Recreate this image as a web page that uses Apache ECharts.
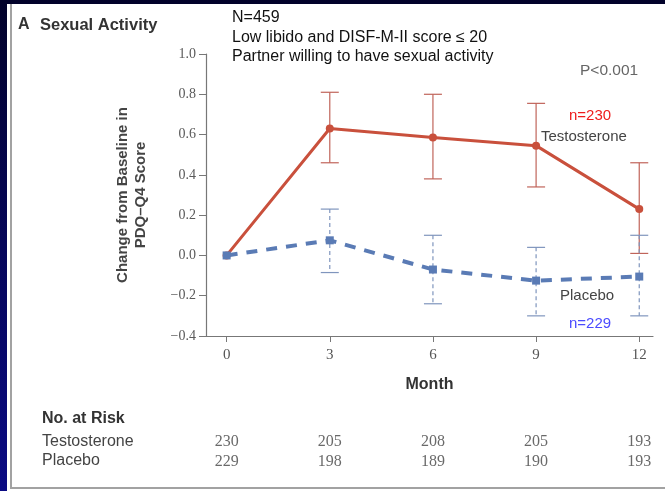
<!DOCTYPE html>
<html>
<head>
<meta charset="utf-8">
<script src="https://cdn.jsdelivr.net/npm/echarts@6/dist/echarts.min.js"></script>
<style>
  html, body { margin: 0; padding: 0; }
  body { width: 665px; height: 491px; position: relative; overflow: hidden;
         background: linear-gradient(to bottom, #02022a 0%, #06065a 50%, #0b0b84 100%); }
  #panel { position: absolute; left: 7px; top: 4px; width: 658px; height: 487px; background: #ffffff; }
  #edgeL { position: absolute; left: 10px; top: 4px; width: 2px; height: 485px; background: #a2a2a2; }
  #edgeB { position: absolute; left: 10px; top: 487px; width: 655px; height: 2px; background: #a2a2a2; }
  #chart { position: absolute; left: 0; top: 0; width: 665px; height: 491px; }
</style>
</head>
<body>
<div id="panel"></div>
<div id="edgeL"></div>
<div id="edgeB"></div>
<div id="chart"></div>
<script>
// Change from baseline in PDQ-Q4 sexual activity score, by month
const months = [0, 3, 6, 9, 12];
const monthTicks = [0, 3, 6, 9, 12];

const testoMean = [0, 0.63, 0.585, 0.545, 0.23];
const testoLow  = [null, 0.46, 0.38, 0.34, 0.01];
const testoHigh = [null, 0.81, 0.80, 0.755, 0.46];

const placeboMean = [0, 0.075, -0.07, -0.125, -0.105];
const placeboLow  = [null, -0.085, -0.24, -0.30, -0.30];
const placeboHigh = [null, 0.23, 0.10, 0.04, 0.10];

// Number at risk table
const riskGroups = ['Testosterone', 'Placebo'];
const riskTesto = [230, 205, 208, 205, 193];
const riskPlacebo = [229, 198, 189, 190, 193];

const RED = '#c9503c';
const RED_BAR = '#c0645a';
const BLUE = '#5a7bb5';
const BLUE_BAR = '#7f95bd';

function pairs(xs, ys) { return xs.map((x, i) => [x, ys[i]]); }
function bars(xs, lo, hi) {
  const out = [];
  xs.forEach((x, i) => { if (lo[i] != null) out.push([x, lo[i], hi[i]]); });
  return out;
}
function errorBar(color, dash) {
  return function (params, api) {
    const x = api.value(0);
    const pLo = api.coord([x, api.value(1)]);
    const pHi = api.coord([x, api.value(2)]);
    const w = 9;
    const st = { stroke: color, lineWidth: 1.2, lineDash: dash };
    return {
      type: 'group',
      children: [
        { type: 'line', shape: { x1: pHi[0], y1: pHi[1], x2: pLo[0], y2: pLo[1] }, style: st },
        { type: 'line', shape: { x1: pHi[0] - w, y1: pHi[1], x2: pHi[0] + w, y2: pHi[1] }, style: { stroke: color, lineWidth: 1.2 } },
        { type: 'line', shape: { x1: pLo[0] - w, y1: pLo[1], x2: pLo[0] + w, y2: pLo[1] }, style: { stroke: color, lineWidth: 1.2 } }
      ]
    };
  };
}

const riskData = [];
months.forEach((m, i) => {
  riskData.push([m, 'Testosterone', riskTesto[i]]);
  riskData.push([m, 'Placebo', riskPlacebo[i]]);
});

const tickFont = '"Liberation Serif", "DejaVu Serif", serif';
const sansFont = '"Liberation Sans", Arial, sans-serif';

const chart = echarts.init(document.getElementById('chart'), null, { renderer: 'canvas' });
chart.setOption({
  animation: false,
  backgroundColor: 'transparent',
  grid: [
    { left: 206, right: 12, top: 54, bottom: 155, containLabel: false },
    { left: 206, right: 12, top: 432, height: 40, containLabel: false }
  ],
  xAxis: [
    {
      type: 'value', gridIndex: 0, min: -0.6, max: 12.4,
      axisLine: { show: true, onZero: false, lineStyle: { color: '#777', width: 1.2 } },
      axisTick: { show: true, length: 6, customValues: monthTicks, lineStyle: { color: '#777' } },
      axisLabel: { customValues: monthTicks, color: '#555', fontFamily: tickFont, fontSize: 15, margin: 12 },
      splitLine: { show: false },
      name: 'Month', nameLocation: 'middle', nameGap: 41,
      nameTextStyle: { fontFamily: sansFont, fontWeight: 'bold', fontSize: 16, color: '#333' }
    },
    {
      type: 'value', gridIndex: 1, min: -0.6, max: 12.4,
      axisLine: { show: false }, axisTick: { show: false }, axisLabel: { show: false }, splitLine: { show: false }
    }
  ],
  yAxis: [
    {
      type: 'value', gridIndex: 0, min: -0.4, max: 1.0, interval: 0.2,
      axisLine: { show: true, onZero: false, lineStyle: { color: '#777', width: 1.2 } },
      axisTick: { show: true, length: 7, lineStyle: { color: '#777' } },
      axisLabel: {
        color: '#5a5a5a', fontFamily: tickFont, fontSize: 14, margin: 10,
        formatter: v => (v < -1e-9 ? '\u2212' : '') + Math.abs(v).toFixed(1)
      },
      splitLine: { show: false },
      name: 'Change from Baseline in\nPDQ\u2013Q4 Score', nameLocation: 'middle', nameGap: 56, nameRotate: 90,
      nameTextStyle: { fontFamily: sansFont, fontWeight: 'bold', fontSize: 15, color: '#444', lineHeight: 18 }
    },
    {
      type: 'category', gridIndex: 1, data: riskGroups, inverse: true,
      axisLine: { show: false }, axisTick: { show: false }, axisLabel: { show: false }, splitLine: { show: false }
    }
  ],
  series: [
    {
      type: 'custom', xAxisIndex: 0, yAxisIndex: 0, z: 1,
      renderItem: errorBar(RED_BAR, null),
      data: bars(months, testoLow, testoHigh)
    },
    {
      type: 'custom', xAxisIndex: 0, yAxisIndex: 0, z: 1,
      renderItem: errorBar(BLUE_BAR, [4, 3]),
      data: bars(months, placeboLow, placeboHigh)
    },
    {
      name: 'Testosterone', type: 'line', xAxisIndex: 0, yAxisIndex: 0, z: 3,
      data: pairs(months, testoMean),
      lineStyle: { color: RED, width: 3 },
      itemStyle: { color: RED },
      symbol: 'circle', symbolSize: 8
    },
    {
      name: 'Placebo', type: 'line', xAxisIndex: 0, yAxisIndex: 0, z: 4,
      data: pairs(months, placeboMean),
      lineStyle: { color: BLUE, width: 4, type: [11, 9] },
      itemStyle: { color: BLUE },
      symbol: 'rect', symbolSize: 8
    },
    {
      type: 'scatter', xAxisIndex: 1, yAxisIndex: 1,
      data: riskData, symbolSize: 0,
      label: {
        show: true, position: 'inside', formatter: p => p.value[2],
        fontFamily: tickFont, fontSize: 16, color: '#444'
      }
    }
  ],
  graphic: [
    { type: 'text', left: 18, top: 17, style: { text: 'A', font: 'bold 16px ' + sansFont, fill: '#333' } },
    { type: 'text', left: 40, top: 17, style: { text: 'Sexual Activity', font: 'bold 16.5px ' + sansFont, fill: '#333' } },
    { type: 'text', left: 232, top: 10, style: { text: 'N=459', font: '16px ' + sansFont, fill: '#111' } },
    { type: 'text', left: 232, top: 30, style: { text: 'Low libido and DISF-M-II score \u2264 20', font: '16px ' + sansFont, fill: '#111' } },
    { type: 'text', left: 232, top: 49, style: { text: 'Partner willing to have sexual activity', font: '16px ' + sansFont, fill: '#111' } },
    { type: 'text', left: 580, top: 63, style: { text: 'P<0.001', font: '15.5px ' + sansFont, fill: '#666' } },
    { type: 'text', left: 569, top: 108, style: { text: 'n=230', font: '15px ' + sansFont, fill: '#ee1c1c' } },
    { type: 'text', left: 541, top: 129, style: { text: 'Testosterone', font: '15px ' + sansFont, fill: '#444' } },
    { type: 'text', left: 560, top: 288, style: { text: 'Placebo', font: '15px ' + sansFont, fill: '#444' } },
    { type: 'text', left: 569, top: 316, style: { text: 'n=229', font: '15px ' + sansFont, fill: '#4b4bff' } },
    { type: 'text', left: 42, top: 411, style: { text: 'No. at Risk', font: 'bold 16px ' + sansFont, fill: '#333' } },
    { type: 'text', left: 42, top: 434, style: { text: 'Testosterone', font: '16px ' + sansFont, fill: '#444' } },
    { type: 'text', left: 42, top: 453, style: { text: 'Placebo', font: '16px ' + sansFont, fill: '#444' } }
  ]
});
</script>
</body>
</html>
